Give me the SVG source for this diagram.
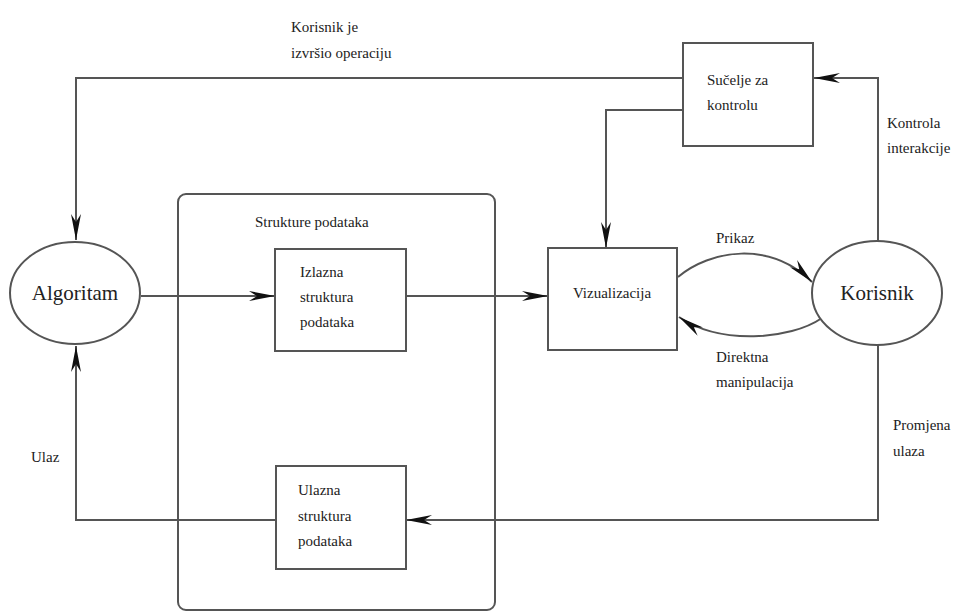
<svg xmlns="http://www.w3.org/2000/svg" width="975" height="613" viewBox="0 0 975 613">
<style>
.box{fill:#fff;stroke:#555;stroke-width:2}
.ln{fill:none;stroke:#555;stroke-width:2}
text{font-family:'Liberation Serif','DejaVu Serif','Times New Roman',serif;fill:#222}
.t{font-size:15px}
.big{font-size:21px}
</style>
<defs>
<marker id="ah" viewBox="0 0 26 10" refX="26" refY="5" markerWidth="26" markerHeight="10" markerUnits="userSpaceOnUse" orient="auto">
<path d="M0,0 L26,5 L0,10 L8,5 z" fill="#111"/>
</marker>
</defs>
<rect width="975" height="613" fill="#fff"/>
<g id="connectors">
<path class="ln" d="M683,78 L76,78 L76,240" marker-end="url(#ah)"/>
<path class="ln" d="M683,110 L606,110 L606,248" marker-end="url(#ah)"/>
<path class="ln" d="M878,242 L878,78 L814,78" marker-end="url(#ah)"/>
<path class="ln" d="M878,345 L878,520 L406,520" marker-end="url(#ah)"/>
<path class="ln" d="M276,520 L76,520 L76,346" marker-end="url(#ah)"/>
<path class="ln" d="M141,296 L275,296" marker-end="url(#ah)"/>
<path class="ln" d="M406,296 L548,296" marker-end="url(#ah)"/>
<path class="ln" d="M678,277 C710,250 770,240 812,282" marker-end="url(#ah)"/>
<path class="ln" d="M822,318 C790,340 720,345 679,317" marker-end="url(#ah)"/>
</g>
<g id="strukture">
<rect x="178" y="194" width="317" height="416" rx="8" fill="none" stroke="#555" stroke-width="2"/>
<text class="t" x="255" y="227" font-family="Liberation Serif, serif">Strukture podataka</text>
</g>
<g id="algoritam">
<ellipse class="box" cx="75" cy="293" rx="65" ry="51"/>
<text class="big" x="75" y="300" text-anchor="middle">Algoritam</text>
</g>
<g id="izlazna">
<rect class="box" x="275" y="249" width="131" height="102"/>
<text class="t" x="300" y="277">Izlazna</text>
<text class="t" x="300" y="302">struktura</text>
<text class="t" x="300" y="327">podataka</text>
</g>
<g id="ulazna">
<rect class="box" x="276" y="466" width="130" height="103"/>
<text class="t" x="298" y="495">Ulazna</text>
<text class="t" x="298" y="521">struktura</text>
<text class="t" x="298" y="546">podataka</text>
</g>
<g id="vizualizacija">
<rect class="box" x="548" y="248" width="129" height="102"/>
<text class="t" x="612" y="298" text-anchor="middle">Vizualizacija</text>
</g>
<g id="sucelje">
<rect class="box" x="683" y="43" width="130" height="103"/>
<text class="t" x="707" y="85">Sučelje za</text>
<text class="t" x="707" y="110">kontrolu</text>
</g>
<g id="korisnik">
<ellipse class="box" cx="877" cy="293" rx="65" ry="52"/>
<text class="big" x="877" y="300" text-anchor="middle">Korisnik</text>
</g>
<g id="labels">
<text class="t" x="291" y="32">Korisnik je</text>
<text class="t" x="291" y="58">izvršio operaciju</text>
<text class="t" x="887" y="128">Kontrola</text>
<text class="t" x="887" y="153">interakcije</text>
<text class="t" x="716" y="243">Prikaz</text>
<text class="t" x="716" y="362">Direktna</text>
<text class="t" x="716" y="387">manipulacija</text>
<text class="t" x="31" y="462">Ulaz</text>
<text class="t" x="893" y="430">Promjena</text>
<text class="t" x="893" y="456">ulaza</text>
</g>
</svg>
